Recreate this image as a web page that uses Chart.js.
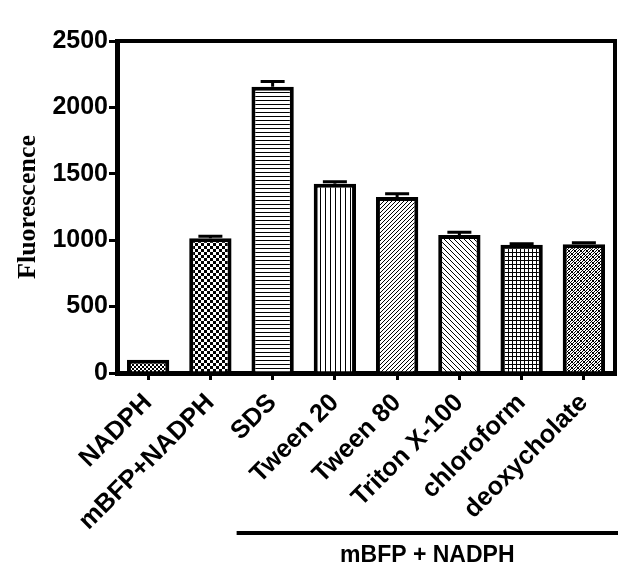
<!DOCTYPE html>
<html>
<head>
<meta charset="utf-8">
<script src="https://cdn.jsdelivr.net/npm/chart.js@4/dist/chart.umd.min.js"></script>
<style>
  html, body { margin: 0; padding: 0; background: #fff; }
  #wrap { width: 628px; height: 583px; }
</style>
</head>
<body>
<div id="wrap"><canvas id="myChart" width="628" height="583"></canvas></div>
<script>
var categories = ['NADPH', 'mBFP+NADPH', 'SDS', 'Tween 20', 'Tween 80', 'Triton X-100', 'chloroform', 'deoxycholate'];
var values = [100, 1015, 2155, 1425, 1325, 1040, 965, 970];
var errors = [0, 15, 40, 15, 25, 20, 8, 10];
var yTicks = [0, 500, 1000, 1500, 2000, 2500];
var groupLabel = 'mBFP + NADPH';
var groupFrom = 2; // first category under the bracket

// pixel patterns, black where fn(x, y) is true
function makePattern(w, h, fn) {
    var c = document.createElement('canvas');
    c.width = w; c.height = h;
    var g = c.getContext('2d');
    var img = g.createImageData(w, h);
    for (var y = 0; y < h; y++) {
        for (var x = 0; x < w; x++) {
            var i = (y * w + x) * 4;
            var v = fn(x, y) ? 0 : 255;
            img.data[i] = v; img.data[i + 1] = v; img.data[i + 2] = v; img.data[i + 3] = 255;
        }
    }
    g.putImageData(img, 0, 0);
    return g.createPattern(c, 'repeat');
}

var fills = [
    makePattern(4, 4, function (x, y) { return (Math.floor(x / 2) + Math.floor(y / 2)) % 2 == 0; }),
    makePattern(6, 6, function (x, y) { return (Math.floor(x / 3) + Math.floor(y / 3)) % 2 == 0; }),
    makePattern(4, 4, function (x, y) { return y == 0; }),
    makePattern(5, 5, function (x, y) { return x == 0; }),
    makePattern(4, 4, function (x, y) { return (x + y) % 4 == 0; }),
    makePattern(5, 5, function (x, y) { return (x - y + 5) % 5 == 0; }),
    makePattern(4, 4, function (x, y) { return x == 0 || y == 0; }),
    makePattern(6, 6, function (x, y) { return (x + y) % 3 == 0 || (x - y + 6) % 6 == 0; })
];

var errorBars = {
    id: 'errorBars',
    afterDatasetsDraw: function (chart) {
        var ctx = chart.ctx;
        var meta = chart.getDatasetMeta(0);
        var y = chart.scales.y;
        ctx.save();
        ctx.strokeStyle = '#000';
        ctx.lineWidth = 3;
        meta.data.forEach(function (bar, i) {
            if (!errors[i]) return;
            var top = y.getPixelForValue(values[i] + errors[i]);
            ctx.beginPath();
            ctx.moveTo(bar.x, bar.y);
            ctx.lineTo(bar.x, top);
            ctx.moveTo(bar.x - 12, top);
            ctx.lineTo(bar.x + 12, top);
            ctx.stroke();
        });
        ctx.restore();
    }
};

var frame = {
    id: 'frame',
    afterDraw: function (chart) {
        var ctx = chart.ctx;
        var a = chart.chartArea;
        var x = chart.scales.x;
        ctx.save();
        ctx.strokeStyle = '#000';
        ctx.lineWidth = 4;
        ctx.beginPath();
        ctx.moveTo(a.left, a.top);
        ctx.lineTo(a.right, a.top);
        ctx.lineTo(a.right, a.bottom);
        ctx.stroke();
        // group bracket below the labels
        var x0 = x.getPixelForValue(groupFrom) - 36;
        ctx.beginPath();
        ctx.moveTo(x0, 533);
        ctx.lineTo(a.right + 3, 533);
        ctx.stroke();
        ctx.fillStyle = '#000';
        ctx.font = 'bold 23px "Liberation Sans", Arial, sans-serif';
        ctx.textAlign = 'center';
        ctx.textBaseline = 'middle';
        ctx.fillText(groupLabel, (x0 + a.right + 3) / 2, 556);
        ctx.restore();
    }
};

var ctx = document.getElementById('myChart').getContext('2d');
var myChart = new Chart(ctx, {
    type: 'bar',
    data: {
        labels: categories,
        datasets: [{
            data: values,
            backgroundColor: fills,
            borderColor: '#000',
            borderWidth: 4,
            barPercentage: 0.68,
            categoryPercentage: 1
        }]
    },
    options: {
        responsive: false,
        animation: false,
        devicePixelRatio: 1,
        layout: { padding: { top: 41, right: 13, left: 0, bottom: 0 } },
        plugins: {
            legend: { display: false },
            tooltip: { enabled: false }
        },
        scales: {
            x: {
                z: 1,
                afterFit: function (s) { s.height = 210; },
                grid: {
                    offset: false,
                    drawOnChartArea: false,
                    tickLength: 7,
                    lineWidth: 3,
                    color: '#000'
                },
                border: { display: true, width: 5, color: '#000' },
                ticks: {
                    autoSkip: false,
                    minRotation: 45,
                    maxRotation: 45,
                    color: '#000',
                    font: { family: 'Liberation Sans, Arial, sans-serif', size: 25.5, weight: 'bold' },
                    padding: 8
                }
            },
            y: {
                z: 1,
                min: yTicks[0],
                max: yTicks[yTicks.length - 1],
                afterFit: function (s) { s.width = 117; },
                afterBuildTicks: function (s) {
                    s.ticks = yTicks.map(function (v) { return { value: v }; });
                },
                grid: {
                    drawOnChartArea: false,
                    tickLength: 8,
                    lineWidth: 3,
                    color: '#000'
                },
                border: { display: true, width: 5, color: '#000' },
                ticks: {
                    color: '#000',
                    font: { family: 'Liberation Sans, Arial, sans-serif', size: 25, weight: 'bold' },
                    padding: 1,
                    callback: function (v) { return String(v); }
                },
                title: {
                    display: true,
                    text: 'Fluorescence',
                    color: '#000',
                    font: { family: 'Liberation Serif, Times New Roman, serif', size: 26, weight: 'bold' },
                    padding: { top: 13, bottom: 0 }
                }
            }
        }
    },
    plugins: [errorBars, frame]
});
</script>
</body>
</html>
